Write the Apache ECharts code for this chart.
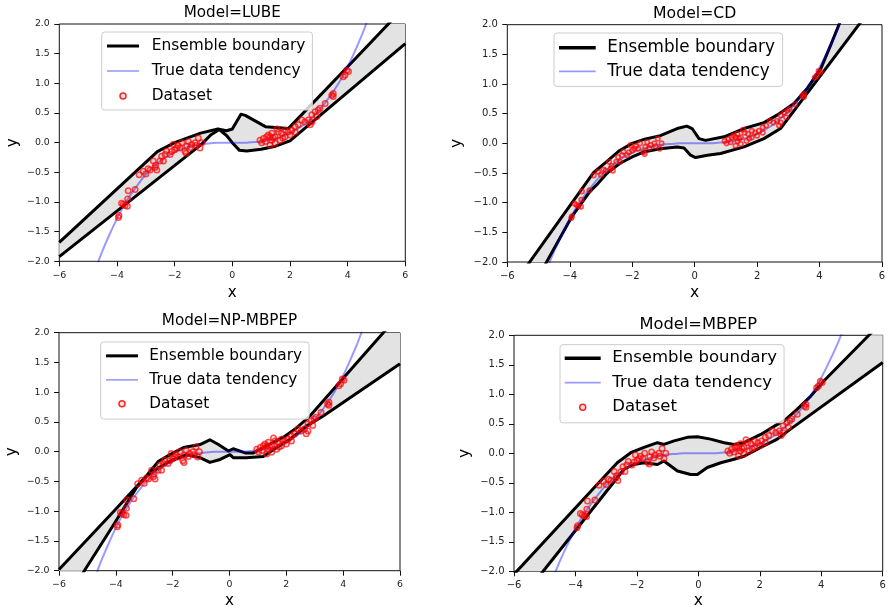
<!DOCTYPE html>
<html>
<head>
<meta charset="utf-8">
<script src="https://cdn.jsdelivr.net/npm/echarts@6/dist/echarts.min.js"></script>
<style>
  html, body { margin: 0; padding: 0; background: #fff; }
  #chart { width: 888px; height: 613px; }
</style>
</head>
<body>
<div id="chart"></div>
<script>
// Model names, one panel each
const models = ['LUBE', 'CD', 'NP-MBPEP', 'MBPEP'];

// Axis ticks
const xTicks = [-6, -4, -2, 0, 2, 4, 6];
const yTicks = [-2, -1.5, -1, -0.5, 0, 0.5, 1, 1.5, 2];

// True data tendency
const trueX = [-4.75, -4.5, -4.25, -4, -3.75, -3.5, -3.25, -3, -2.75, -2.5, -2.25, -2, -1.75, -1.5, -1.25, -1, -0.75, -0.5, -0.25, 0,
               0.25, 0.5, 0.75, 1, 1.25, 1.5, 1.75, 2, 2.25, 2.5, 2.75, 3, 3.25, 3.5, 3.75, 4, 4.25, 4.5, 4.75];
const trueY = [-2.14, -1.82, -1.54, -1.28, -1.05, -0.86, -0.69, -0.54, -0.42, -0.31, -0.23, -0.16, -0.11, -0.07, -0.04, -0.02, -0.01, 0, 0, 0,
               0, 0, 0.01, 0.02, 0.04, 0.07, 0.11, 0.16, 0.23, 0.31, 0.42, 0.54, 0.69, 0.86, 1.05, 1.28, 1.54, 1.82, 2.14];

// Dataset samples
const dataX = [-3.95, -3.93, -3.84, -3.78, -3.72, -3.64, -3.63, -3.61, -3.37, -3.23, -3.09, -3.0, -2.92, -2.85, -2.74, -2.68, -2.66, -2.62,
               -2.51, -2.45, -2.39, -2.33, -2.28, -2.16, -2.1, -2.05, -2.0, -1.93, -1.88, -1.81, -1.75, -1.64, -1.6, -1.58, -1.52, -1.45,
               -1.41, -1.29, -1.25, -1.18, -1.12, -1.06,
               0.96, 1.02, 1.08, 1.15, 1.19, 1.25, 1.31, 1.31, 1.37, 1.37, 1.42, 1.48, 1.48, 1.55, 1.6, 1.66, 1.71, 1.75, 1.83, 1.83,
               1.94, 2.0, 2.06, 2.18, 2.18, 2.29, 2.41, 2.52, 2.64, 2.7, 2.76, 2.76, 2.87, 2.93, 2.98, 3.04, 3.22, 3.45, 3.5, 3.5,
               3.85, 3.91, 3.97, 4.03];
const dataY = [-1.26, -1.23, -1.02, -1.04, -1.06, -1.07, -0.95, -0.81, -0.79, -0.54, -0.48, -0.53, -0.44, -0.46, -0.31, -0.42, -0.38, -0.46,
               -0.31, -0.23, -0.31, -0.2, -0.14, -0.2, -0.15, -0.03, -0.12, -0.09, -0.05, -0.09, 0.0, -0.15, -0.18, -0.06, 0.02, -0.08,
               -0.03, 0.0, -0.05, 0.08, -0.09, 0.0,
               0.04, 0.0, 0.07, 0.02, 0.1, 0.13, 0.1, -0.04, 0.16, 0.04, 0.08, 0.1, -0.01, 0.23, 0.18, 0.04, 0.16, 0.08, 0.21, 0.1,
               0.18, 0.13, 0.21, 0.27, 0.18, 0.3, 0.38, 0.35, 0.38, 0.3, 0.47, 0.35, 0.52, 0.44, 0.55, 0.58, 0.66, 0.8, 0.83, 0.78,
               1.11, 1.14, 1.22, 1.2];

// Ensemble boundaries [x, y] per model
const lubeUpper = [[-6, -1.68], [-2.6, -0.15], [-2.0, 0.0], [-1.1, 0.16], [-0.5, 0.23], [-0.2, 0.2], [0.0, 0.23], [0.3, 0.48],
                   [0.45, 0.46], [1.15, 0.27], [1.95, 0.24], [4.0, 1.28], [6.0, 2.3]];
const lubeLower = [[-6, -1.92], [-1.05, -0.02], [-0.75, 0.13], [-0.45, 0.22], [-0.2, 0.12], [0.0, 0.0], [0.25, -0.13], [0.5, -0.14],
                   [1.0, -0.11], [1.5, -0.06], [2.0, 0.03], [6.0, 1.67]];

const cdUpper = [[-6, -2.52], [-5.24, -1.97], [-3.25, -0.5], [-2.8, -0.3], [-2.4, -0.12], [-2.0, 0.0], [-1.6, 0.07], [-1.1, 0.13],
                 [-0.56, 0.25], [-0.25, 0.29], [-0.08, 0.25], [0.14, 0.08], [0.35, 0.05], [0.94, 0.11], [1.58, 0.25], [2.22, 0.35],
                 [2.65, 0.48], [3.18, 0.67], [3.61, 0.93], [4.04, 1.26], [4.36, 1.66], [4.62, 2.0], [4.8, 2.24]];
const cdLower = [[-6, -3.2], [-4.71, -1.97], [-3.94, -1.24], [-3.35, -0.81], [-3.14, -0.7], [-2.8, -0.5], [-2.4, -0.34], [-2.0, -0.23],
                 [-1.6, -0.14], [-1.1, -0.09], [-0.56, -0.06], [-0.34, -0.08], [-0.13, -0.2], [0.03, -0.24], [0.41, -0.2], [0.83, -0.17],
                 [1.58, -0.06], [2.22, 0.08], [2.75, 0.25], [3.5, 0.77], [4.0, 1.12], [5.26, 2.0], [5.5, 2.17]];

const npUpper = [[-6, -1.98], [-4.03, -0.98], [-2.91, -0.4], [-2.5, -0.16], [-2.09, -0.05], [-1.62, 0.07], [-1.04, 0.12], [-0.69, 0.2],
                 [-0.39, 0.12], [-0.04, 0.01], [0.13, 0.05], [0.55, -0.02], [0.84, -0.02], [1.31, 0.1], [1.95, 0.26], [2.36, 0.4],
                 [2.83, 0.6], [5.41, 2.0], [6.0, 2.32]];
const npLower = [[-6, -2.71], [-5.08, -1.98], [-4.03, -1.19], [-3.27, -0.6], [-2.91, -0.41], [-2.5, -0.27], [-2.09, -0.16], [-1.5, -0.05],
                 [-1.04, -0.1], [-0.69, -0.18], [-0.33, -0.13], [0.02, -0.05], [0.13, -0.1], [0.6, -0.1], [1.19, -0.08], [1.66, 0.07],
                 [2.13, 0.21], [2.71, 0.43], [3.3, 0.6], [6.0, 1.48]];

const mbUpper = [[-6, -2.05], [-2.64, -0.16], [-2.2, 0.01], [-1.77, 0.1], [-1.33, 0.18], [-1.12, 0.15], [-0.79, 0.21], [-0.36, 0.27],
                 [-0.03, 0.28], [0.4, 0.24], [0.84, 0.18], [1.16, 0.15], [1.49, 0.18], [2.03, 0.32], [2.57, 0.49], [2.79, 0.55],
                 [3.22, 0.75], [3.66, 0.97], [4.09, 1.23], [5.55, 2.0], [6.0, 2.24]];
const mbLower = [[-6, -2.63], [-5.05, -2.0], [-2.42, -0.27], [-2.1, -0.19], [-1.77, -0.16], [-1.33, -0.19], [-1.12, -0.13], [-0.68, -0.3],
                 [-0.25, -0.36], [-0.03, -0.36], [0.29, -0.24], [0.73, -0.16], [1.16, -0.1], [1.49, -0.05], [2.03, 0.1], [2.57, 0.24],
                 [3.0, 0.41], [6.0, 1.54]];

const bands = [
  { upper: lubeUpper, lower: lubeLower },
  { upper: cdUpper, lower: cdLower },
  { upper: npUpper, lower: npLower },
  { upper: mbUpper, lower: mbLower }
];

// Panel geometry (pixels)
const panels = [
  { left: 59.3, top: 24, width: 346, height: 237.3, titleX: 232.3, titleY: 5.6, titleSize: 15.2, tickSize: 9.4,
    nameSize: 15.2, xGap: 24, yGap: 39, dot: 5.5, dotBorder: 1.5,
    legend: { left: 101.7, top: 32, fs: 15.4, iw: 32, pad: [6.5, 7, 6.5, 5.3], gap: 10, tp: 7.7,
              items: ['Ensemble boundary', 'True data tendency', 'Dataset'] } },
  { left: 507.3, top: 24.7, width: 374.7, height: 237.3, titleX: 694.7, titleY: 6.1, titleSize: 15.7, tickSize: 10,
    nameSize: 15.5, xGap: 23.3, yGap: 42.5, dot: 4.5, dotBorder: 1.6,
    legend: { left: 554, top: 33, fs: 16.8, iw: 36.7, pad: [6.3, 7.7, 6.6, 5], gap: 6.5, tp: 6.6,
              items: ['Ensemble boundary', 'True data tendency'] } },
  { left: 59, top: 332.7, width: 341, height: 238, titleX: 229.5, titleY: 313.9, titleSize: 15.2, tickSize: 9.4,
    nameSize: 15.2, xGap: 22.8, yGap: 39.2, dot: 5.5, dotBorder: 1.5,
    legend: { left: 100.7, top: 342, fs: 15.3, iw: 32, pad: [6.35, 7, 7.75, 5.3], gap: 9, tp: 6.3,
              items: ['Ensemble boundary', 'True data tendency', 'Dataset'] } },
  { left: 514, top: 335.3, width: 368.7, height: 236, titleX: 698.3, titleY: 316.6, titleSize: 16.3, tickSize: 10,
    nameSize: 15.5, xGap: 22, yGap: 41, dot: 5.5, dotBorder: 1.5,
    legend: { left: 560, top: 344.7, fs: 16.5, iw: 36, pad: [5, 7, 7.1, 4.7], gap: 7.5, tp: 6.6,
              items: ['Ensemble boundary', 'True data tendency', 'Dataset'] } }
];

const FONT = 'DejaVu Sans';
const BAND_FILL = '#e3e3e3';
const TRUE_COLOR = 'rgba(0,0,255,0.4)';
const DOT_FILL = 'rgba(255,0,0,0.12)';
const DOT_EDGE = 'rgba(255,0,0,0.85)';

const legendItems = {
  'Ensemble boundary': { name: 'Ensemble boundary', icon: 'path://M0 0H32V3H0Z',
                         itemStyle: { color: '#000', borderWidth: 0, opacity: 1 } },
  'True data tendency': { name: 'True data tendency', icon: 'path://M0 0H32V1.6H0Z',
                          itemStyle: { color: TRUE_COLOR, borderWidth: 0, opacity: 1 } },
  'Dataset': { name: 'Dataset', icon: 'circle',
               itemStyle: { color: DOT_FILL, borderColor: DOT_EDGE, borderWidth: 1.5, opacity: 1 } }
};

const minus = s => s.replace('-', '\u2212');
const trueLine = trueX.map((x, i) => [x, trueY[i]]);
const samples = dataX.map((x, i) => [x, dataY[i]]);

// Sutherland-Hodgman clip of a polygon (data space) to the axis window
function clipToWindow(pts, x0, x1, y0, y1) {
  const planes = [
    [p => p[0] >= x0, (a, b) => [x0, a[1] + (x0 - a[0]) / (b[0] - a[0]) * (b[1] - a[1])]],
    [p => p[0] <= x1, (a, b) => [x1, a[1] + (x1 - a[0]) / (b[0] - a[0]) * (b[1] - a[1])]],
    [p => p[1] >= y0, (a, b) => [a[0] + (y0 - a[1]) / (b[1] - a[1]) * (b[0] - a[0]), y0]],
    [p => p[1] <= y1, (a, b) => [a[0] + (y1 - a[1]) / (b[1] - a[1]) * (b[0] - a[0]), y1]]
  ];
  let out = pts;
  planes.forEach(([inside, cut]) => {
    const src = out;
    out = [];
    src.forEach((cur, k) => {
      const prev = src[(k + src.length - 1) % src.length];
      if (inside(cur)) {
        if (!inside(prev)) out.push(cut(prev, cur));
        out.push(cur);
      } else if (inside(prev)) {
        out.push(cut(prev, cur));
      }
    });
  });
  return out;
}

const X0 = xTicks[0], X1 = xTicks[xTicks.length - 1];
const Y0 = yTicks[0], Y1 = yTicks[yTicks.length - 1];

const grid = [], xAxis = [], yAxis = [], title = [], legend = [], series = [];

panels.forEach((P, i) => {
  grid.push({
    left: P.left, top: P.top, width: P.width, height: P.height,
    show: true, borderColor: '#111', borderWidth: 1, backgroundColor: 'transparent',
    containLabel: false, outerBoundsMode: 'none'
  });

  const tickStyle = { show: true, inside: false, length: 5, lineStyle: { color: '#111', width: 1 } };
  const labelStyle = { fontSize: P.tickSize, color: '#222', fontFamily: FONT, showMinLabel: true, showMaxLabel: true };
  const nameStyle = { fontSize: P.nameSize, color: '#000', fontFamily: FONT };

  xAxis.push({
    gridIndex: i, type: 'value', position: 'bottom',
    min: X0, max: X1, interval: xTicks[1] - xTicks[0],
    axisLine: { show: false, onZero: false }, splitLine: { show: false },
    axisTick: tickStyle,
    axisLabel: Object.assign({ margin: 9.5, formatter: v => minus(String(v)) }, labelStyle),
    name: 'x', nameLocation: 'middle', nameGap: P.xGap, nameTextStyle: nameStyle, nameMoveOverlap: false
  });
  yAxis.push({
    gridIndex: i, type: 'value', position: 'left',
    min: Y0, max: Y1, interval: yTicks[1] - yTicks[0],
    axisLine: { show: false, onZero: false }, splitLine: { show: false },
    axisTick: tickStyle,
    axisLabel: Object.assign({ margin: 9.5, formatter: v => minus(v.toFixed(1)) }, labelStyle),
    name: 'y', nameLocation: 'middle', nameGap: P.yGap, nameTextStyle: nameStyle, nameMoveOverlap: false
  });

  title.push({
    text: 'Model=' + models[i], left: P.titleX, top: P.titleY, textAlign: 'center', padding: 0,
    textStyle: { fontSize: P.titleSize, fontWeight: 'normal', color: '#000', fontFamily: FONT }
  });

  const L = P.legend;
  legend.push({
    orient: 'vertical', left: L.left, top: L.top, padding: L.pad, itemGap: L.gap,
    itemWidth: L.iw, itemHeight: 6, selectedMode: false,
    backgroundColor: 'rgba(255,255,255,0.8)', borderColor: '#cccccc', borderWidth: 1, borderRadius: 3,
    textStyle: { fontSize: L.fs, color: '#000', fontFamily: FONT, padding: [0, 0, 0, L.tp] },
    data: L.items.map(n => legendItems[n])
  });

  const band = bands[i];
  // shaded region between the two boundaries, cut to the axis window
  const region = clipToWindow(band.upper.concat(band.lower.slice().reverse()), X0, X1, Y0, Y1);
  series.push({
    type: 'custom', name: 'Ensemble band', xAxisIndex: i, yAxisIndex: i,
    clip: false, silent: true, z: 1,
    data: [[0, 0]],
    renderItem: (params, api) => ({
      type: 'polygon',
      shape: { points: region.map(p => api.coord(p)) },
      style: { fill: BAND_FILL, stroke: null, lineWidth: 0 }
    })
  });
  [band.upper, band.lower].forEach(b => {
    series.push({
      type: 'line', name: 'Ensemble boundary', xAxisIndex: i, yAxisIndex: i,
      data: b, symbol: 'none', showSymbol: false, silent: true, z: 2,
      lineStyle: { color: '#000', width: 3, join: 'round' }, itemStyle: { color: '#000' }
    });
  });
  series.push({
    type: 'scatter', name: 'Dataset', xAxisIndex: i, yAxisIndex: i,
    data: samples, symbol: 'circle', symbolSize: P.dot, silent: true, z: 3,
    itemStyle: { color: DOT_FILL, borderColor: DOT_EDGE, borderWidth: P.dotBorder }
  });
  series.push({
    type: 'line', name: 'True data tendency', xAxisIndex: i, yAxisIndex: i,
    data: trueLine, symbol: 'none', showSymbol: false, smooth: 0.3, silent: true, z: 3,
    lineStyle: { color: TRUE_COLOR, width: 2 }, itemStyle: { color: TRUE_COLOR }
  });
});

const chart = echarts.init(document.getElementById('chart'), null, { renderer: 'canvas' });
chart.setOption({
  backgroundColor: '#fff',
  animation: false,
  textStyle: { fontFamily: FONT },
  title, legend, grid, xAxis, yAxis, series
});
</script>
</body>
</html>
